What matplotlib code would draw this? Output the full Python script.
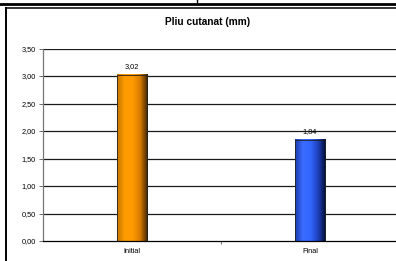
import numpy as np
import matplotlib
matplotlib.use("Agg")
import matplotlib.pyplot as plt
from matplotlib.lines import Line2D
from matplotlib.colors import LinearSegmentedColormap

title = "Pliu cutanat (mm)"
categories = ["Initial", "Final"]
values = [3.02, 1.84]
value_labels = ["3,02", "1,84"]
yticks = [0.0, 0.5, 1.0, 1.5, 2.0, 2.5, 3.0, 3.5]
ytick_labels = ["0,00", "0,50", "1,00", "1,50", "2,00", "2,50", "3,00", "3,50"]

plt.rcParams['font.family'] = ['Liberation Sans', 'DejaVu Sans']

W, H = 396, 261
fig = plt.figure(figsize=(W / 100, H / 100), dpi=100)
fig.patch.set_facecolor("white")

# outer page borders
fig.add_artist(Line2D([0, 1], [1 - 4 / H, 1 - 4 / H], color="black", lw=2.0))
fig.add_artist(Line2D([197 / W, 197 / W], [1, 1 - 4 / H], color="black", lw=1.0))
# chart frame
fig.add_artist(Line2D([5.5 / W, 1.01], [1 - 7.5 / H, 1 - 7.5 / H], color="black", lw=1.1))
fig.add_artist(Line2D([5.5 / W, 5.5 / W], [1 - 7.5 / H, -0.01], color="black", lw=1.4))

ax_left, ax_right = 43 / W, 399 / W
ax_bottom, ax_top = 1 - 241 / H, 1 - 48.5 / H
ax = fig.add_axes([ax_left, ax_bottom, ax_right - ax_left, ax_top - ax_bottom])
ax.set_xlim(-0.5, 1.5)
ax.set_ylim(0, 3.5)

for y in yticks[1:]:
    ax.axhline(y, color="#1a1a1a", lw=0.9, zorder=1)

bar_w = 0.17
bars = ax.bar(range(len(categories)), values, width=bar_w, zorder=3,
              color="none", edgecolor="#222222", linewidth=0.6)

cmaps = [
    LinearSegmentedColormap.from_list("o", ["#c47400", "#ff9c00", "#ff9a00", "#d87c00", "#3a2200"]),
    LinearSegmentedColormap.from_list("b", ["#1a3aa8", "#3a6cff", "#3366ff", "#1f40b8", "#000a30"]),
]
grad = np.linspace(0, 1, 256).reshape(1, -1)
for b, cm in zip(bars, cmaps):
    x0, w, h = b.get_x(), b.get_width(), b.get_height()
    ax.imshow(grad, cmap=cm, aspect="auto", extent=[x0, x0 + w, 0, h],
              zorder=2, interpolation="bilinear")

ax.set_xlim(-0.5, 1.5)
ax.set_ylim(0, 3.5)

for b, lab in zip(bars, value_labels):
    ax.annotate(lab, (b.get_x() + b.get_width() / 2, b.get_height()),
                xytext=(0, 3.5), textcoords="offset points",
                ha="center", va="bottom", fontsize=5.3, color="black")

ax.set_yticks(yticks)
ax.set_yticklabels(ytick_labels, fontsize=5.3)
ax.set_xticks(range(len(categories)))
ax.set_xticklabels(categories, fontsize=5.3)
ax.set_xticks([0.5], minor=True)
ax.tick_params(axis="x", which="major", length=0, pad=5)
ax.tick_params(axis="x", which="minor", length=2, width=0.6, color="#555555", direction="out")
ax.tick_params(axis="y", length=3, width=0.6, pad=2, color="#555555")

for s in ["top", "right"]:
    ax.spines[s].set_visible(False)
ax.spines["left"].set_color("#777777")
ax.spines["left"].set_linewidth(0.9)
ax.spines["bottom"].set_color("black")
ax.spines["bottom"].set_linewidth(0.9)
ax.set_facecolor("white")

fig.text(207.5 / W, 1 - 22 / H, title, ha="center", va="center",
         fontsize=7.3, fontweight="bold")

fig.savefig("out.png", dpi=100)
